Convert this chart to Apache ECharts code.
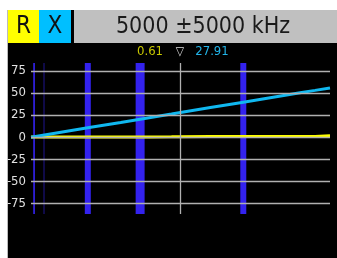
<!DOCTYPE html>
<html><head><meta charset="utf-8">
<script src="https://cdn.jsdelivr.net/npm/echarts@6/dist/echarts.min.js"></script>
<style>html,body{margin:0;padding:0;background:#fff}#c{width:337px;height:258px}</style>
</head><body><div id="c"></div>
<script>
// ---- data ----
var centerKHz = 5000, spanKHz = 5000;
var freqs = [0, 1000, 2000, 3000, 4000, 4700, 4750, 5000, 6000, 7000, 8000, 9000, 9500, 9550, 10000];
var rValues = [0.2, 0.25, 0.25, 0.3, 0.3, 0.35, 0.6, 0.61, 0.65, 0.7, 0.75, 0.8, 0.85, 1.5, 1.6];
var xValues = [0, 5.6, 11.2, 16.7, 22.3, 26.2, 26.5, 27.91, 33.5, 39.1, 44.7, 50.3, 53.0, 53.3, 55.8];
var bandStarts = [75, 425, 1800, 3500, 7000];
var bandEnds = [130, 445, 2000, 3800, 7200];
var yTicks = [75, 50, 25, 0, -25, -50, -75];
var markerFreq = 5000, markerR = 0.61, markerX = 27.91;

var FONT = '"DejaVu Sans Condensed","Liberation Sans Narrow","Liberation Sans",sans-serif';
function pairs(vals){ return freqs.map(function(f,i){ return [f, vals[i]]; }); }
var bands = bandStarts.map(function(s,i){ return [{xAxis:s},{xAxis:bandEnds[i]}]; });
var grids = yTicks.map(function(v){ return {yAxis:v}; });

var chart = echarts.init(document.getElementById('c'), null, {renderer:'canvas'});
chart.setOption({
  backgroundColor:'#ffffff',
  animation:false,
  grid:{left:31, right:7, top:63, bottom:44},
  xAxis:{type:'value', min:0, max:10000, show:false},
  yAxis:{type:'value', min:-87, max:84,
    axisLine:{show:false}, axisTick:{show:false}, splitLine:{show:false},
    axisLabel:{customValues:yTicks, color:'#e0e0e0', fontSize:13, fontFamily:FONT, margin:5,
      formatter:function(v){return String(v);}}},
  graphic:[
    {type:'rect', z:-10, shape:{x:8,y:10,width:329,height:248}, style:{fill:'#000'}},
    {type:'rect', z:-9, shape:{x:7,y:10,width:1,height:248}, style:{fill:'#bbbbbb'}},
    {type:'rect', z:-9, shape:{x:8,y:10,width:31,height:33}, style:{fill:'#ffff00'}},
    {type:'rect', z:-9, shape:{x:39,y:10,width:32,height:33}, style:{fill:'#00bfff'}},
    {type:'rect', z:-9, shape:{x:74,y:10,width:263,height:33}, style:{fill:'#c0c0c0'}},
    {type:'text', z:100, x:23.5, y:27, style:{text:'R', fill:'#111', font:'24px '+FONT, align:'center', verticalAlign:'middle'}},
    {type:'text', z:100, x:55, y:27, style:{text:'X', fill:'#111', font:'24px '+FONT, align:'center', verticalAlign:'middle'}},
    {type:'text', z:100, x:203, y:27, style:{text:centerKHz+' \u00b1'+spanKHz+' kHz', fill:'#1a1a1a', font:'23px '+FONT, align:'center', verticalAlign:'middle'}},
    {type:'text', z:100, x:150, y:52, style:{text:markerR.toFixed(2), fill:'#c8c800', font:'13px '+FONT, align:'center', verticalAlign:'middle'}},
    {type:'text', z:100, x:180, y:52, style:{text:'\u25bd', fill:'#dddddd', font:'12px '+FONT, align:'center', verticalAlign:'middle'}},
    {type:'text', z:100, x:212, y:52, style:{text:markerX.toFixed(2), fill:'#22b4e8', font:'13px '+FONT, align:'center', verticalAlign:'middle'}}
  ],
  series:[
    {type:'line', data:[], silent:true,
      markArea:{silent:true, itemStyle:{color:'#3322ee', opacity:1}, data:bands},
      markLine:{silent:true, symbol:'none', label:{show:false},
        lineStyle:{color:'#b0b0b0', width:1.3, type:'solid'},
        data:grids.concat([{xAxis:markerFreq}])}},
    {type:'line', name:'R', data:pairs(rValues), showSymbol:false, silent:true,
      lineStyle:{color:'#ffff00', width:3}},
    {type:'line', name:'X', data:pairs(xValues), showSymbol:false, silent:true,
      lineStyle:{color:'#10b8f0', width:3}}
  ]
});
</script></body></html>
